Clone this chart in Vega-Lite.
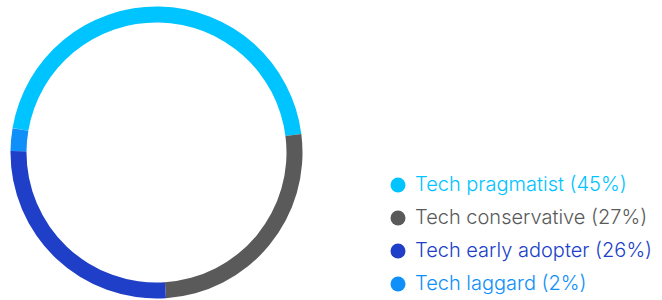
{
  "$schema": "https://vega.github.io/schema/vega-lite/v6.json",
  "width": 313,
  "height": 305,
  "padding": 0,
  "background": "white",
  "view": {"stroke": null},
  "data": {
    "values": [
      {"segment": "Tech pragmatist (45%)", "share": 45.3, "order": 1},
      {"segment": "Tech conservative (27%)", "share": 26.0, "order": 2},
      {"segment": "Tech early adopter (26%)", "share": 26.2, "order": 3},
      {"segment": "Tech laggard (2%)", "share": 2.5, "order": 4}
    ]
  },
  "mark": {"type": "arc", "outerRadius": 146, "innerRadius": 130},
  "encoding": {
    "theta": {"field": "share", "type": "quantitative", "stack": true, "scale": {"range": [-1.403, 4.880]}},
    "order": {"field": "order", "type": "quantitative"},
    "color": {
      "field": "segment",
      "type": "nominal",
      "sort": ["Tech pragmatist (45%)", "Tech conservative (27%)", "Tech early adopter (26%)", "Tech laggard (2%)"],
      "scale": {
        "domain": ["Tech pragmatist (45%)", "Tech conservative (27%)", "Tech early adopter (26%)", "Tech laggard (2%)"],
        "range": ["#00c4ff", "#5a5a5a", "#203fc8", "#0f8ff8"]
      },
      "legend": {
        "title": null,
        "orient": "none",
        "legendX": 388,
        "legendY": 175,
        "padding": 0,
        "symbolType": "circle",
        "symbolSize": 225,
        "symbolStrokeWidth": 0,
        "labelFont": "Inter",
        "labelFontSize": 20,
        "labelFontWeight": 300,
        "labelOffset": 7,
        "rowPadding": 13,
        "labelLimit": 400,
        "encode": {
          "labels": {"update": {"fill": {"scale": "color", "field": "value"}}}
        }
      }
    }
  }
}
